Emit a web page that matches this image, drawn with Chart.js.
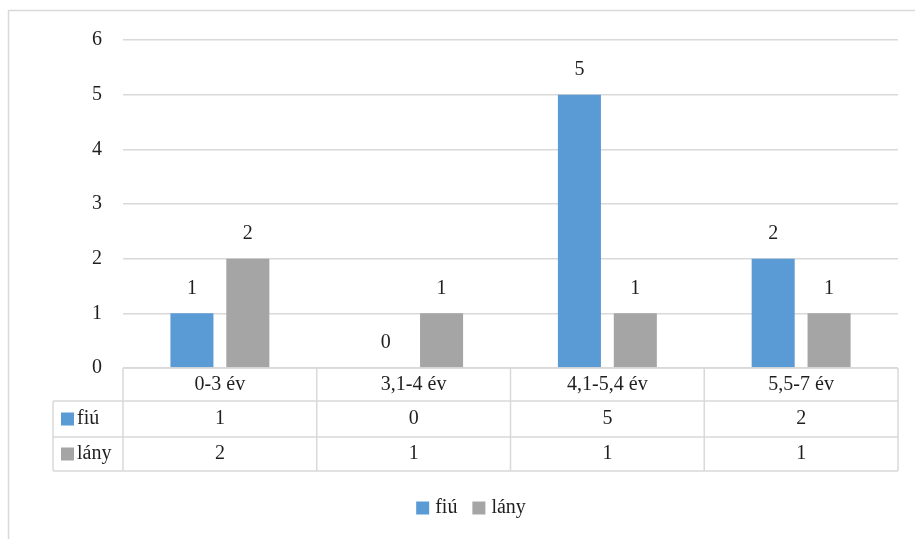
<!DOCTYPE html>
<html>
<head>
<meta charset="utf-8">
<script src="https://cdn.jsdelivr.net/npm/chart.js@4"></script>
<style>
  html, body { margin: 0; padding: 0; background: #fff; }
  #wrap { width: 915px; height: 539px; position: relative; }
</style>
</head>
<body>
<div id="wrap"><canvas id="korChart" width="915" height="539"></canvas></div>
<script>
// Data
var categories = ["0-3 év", "3,1-4 év", "4,1-5,4 év", "5,5-7 év"];
var seriesNames = ["fiú", "lány"];
var fiuValues = [1, 0, 5, 2];
var lanyValues = [2, 1, 1, 1];
var yTicks = [0, 1, 2, 3, 4, 5, 6];

var FONT = "'Liberation Serif', 'Times New Roman', serif";
var FSIZE = 20;
var TEXT = "#1f1f1f";
var LINE = "#d9d9d9";
var colors = ["#5b9bd5", "#a5a5a5"];

// outer frame (left + top edge only, like the original)
var framePlugin = {
    id: "frame",
    beforeDraw: function(chart) {
        var ctx = chart.ctx;
        ctx.save();
        ctx.strokeStyle = LINE;
        ctx.lineWidth = 1.5;
        ctx.beginPath();
        ctx.moveTo(8.5, 539);
        ctx.lineTo(8.5, 10.5);
        ctx.lineTo(915, 10.5);
        ctx.stroke();
        ctx.restore();
    }
};

// value labels above the bars
var valueLabels = {
    id: "valueLabels",
    afterDatasetsDraw: function(chart) {
        var ctx = chart.ctx;
        ctx.save();
        ctx.font = FSIZE + "px " + FONT;
        ctx.fillStyle = TEXT;
        ctx.textAlign = "center";
        ctx.textBaseline = "middle";
        chart.data.datasets.forEach(function(ds, di) {
            chart.getDatasetMeta(di).data.forEach(function(bar, i) {
                ctx.fillText(String(ds.data[i]), bar.x, bar.y - 25);
            });
        });
        ctx.restore();
    }
};

// data table under the plot area + legend
var dataTable = {
    id: "dataTable",
    afterDraw: function(chart) {
        var ctx = chart.ctx;
        var x = chart.scales.x;
        var y = chart.scales.y;
        var area = chart.chartArea;
        var top = y.getPixelForValue(0);
        var rows = [top, top + 33, top + 69, top + 103];
        var n = categories.length;
        var colW = (area.right - area.left) / n;
        var legendLeft = 53;

        ctx.save();
        ctx.strokeStyle = LINE;
        ctx.lineWidth = 1.5;
        ctx.beginPath();
        // horizontal lines
        ctx.moveTo(area.left, rows[0]); ctx.lineTo(area.right, rows[0]);
        for (var r = 1; r < rows.length; r++) {
            ctx.moveTo(legendLeft, rows[r]); ctx.lineTo(area.right, rows[r]);
        }
        // vertical lines
        ctx.moveTo(legendLeft, rows[1]); ctx.lineTo(legendLeft, rows[3]);
        for (var c = 0; c <= n; c++) {
            var vx = area.left + c * colW;
            ctx.moveTo(vx, rows[0]); ctx.lineTo(vx, rows[3]);
        }
        ctx.stroke();

        ctx.font = FSIZE + "px " + FONT;
        ctx.fillStyle = TEXT;
        ctx.textAlign = "center";
        ctx.textBaseline = "middle";
        categories.forEach(function(cat, i) {
            var cx = x.getPixelForValue(i);
            ctx.fillText(cat, cx, (rows[0] + rows[1]) / 2);
            chart.data.datasets.forEach(function(ds, di) {
                ctx.fillText(String(ds.data[i]), cx, (rows[di + 1] + rows[di + 2]) / 2);
            });
        });

        // row headers with colour keys
        ctx.textAlign = "left";
        chart.data.datasets.forEach(function(ds, di) {
            var my = (rows[di + 1] + rows[di + 2]) / 2;
            ctx.fillStyle = ds.backgroundColor;
            ctx.fillRect(61, my - 6.5, 13, 13);
            ctx.fillStyle = TEXT;
            ctx.fillText(ds.label, 77, my);
        });

        // legend below the table
        var ly = 508, box = 13, gap = 6, spacing = 15;
        var total = 0;
        chart.data.datasets.forEach(function(ds, di) {
            total += box + gap + ctx.measureText(ds.label).width;
            if (di > 0) total += spacing;
        });
        var lx = 471 - total / 2;
        chart.data.datasets.forEach(function(ds) {
            ctx.fillStyle = ds.backgroundColor;
            ctx.fillRect(lx, ly - 6.5, box, box);
            lx += box + gap;
            ctx.fillStyle = TEXT;
            ctx.fillText(ds.label, lx, ly);
            lx += ctx.measureText(ds.label).width + spacing;
        });
        ctx.restore();
    }
};

new Chart(document.getElementById("korChart"), {
    type: "bar",
    data: {
        labels: categories,
        datasets: [
            { label: seriesNames[0], data: fiuValues, backgroundColor: colors[0] },
            { label: seriesNames[1], data: lanyValues, backgroundColor: colors[1] }
        ]
    },
    options: {
        responsive: false,
        animation: false,
        layout: { padding: { left: 0, right: 17, top: 40, bottom: 51 } },
        datasets: {
            bar: { categoryPercentage: 0.577, barPercentage: 0.77 }
        },
        scales: {
            x: {
                grid: { display: false },
                border: { display: false },
                ticks: { display: false },
                afterFit: function(scale) { scale.height = 120; }
            },
            y: {
                min: 0,
                max: 6,
                afterBuildTicks: function(scale) {
                    scale.ticks = yTicks.map(function(v) { return { value: v }; });
                },
                grid: { color: LINE, lineWidth: 1.5, drawTicks: false },
                border: { display: false },
                ticks: {
                    padding: 21,
                    color: TEXT,
                    font: { family: FONT, size: FSIZE }
                },
                afterFit: function(scale) { scale.width = 123; }
            }
        },
        plugins: {
            legend: { display: false },
            tooltip: { enabled: false }
        }
    },
    plugins: [framePlugin, valueLabels, dataTable]
});
</script>
</body>
</html>
